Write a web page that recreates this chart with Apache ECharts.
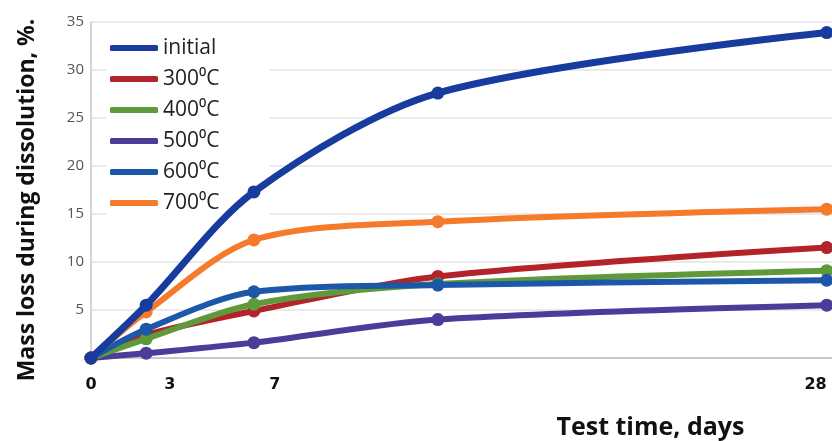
<!DOCTYPE html>
<html>
<head>
<meta charset="utf-8">
<script src="https://cdn.jsdelivr.net/npm/echarts@6/dist/echarts.min.js"></script>
<style>html,body{margin:0;padding:0;background:#fff;}#c{width:832px;height:441px;}</style>
</head>
<body>
<div id="c"></div>
<script>
const days = [0, 2.1, 6.2, 13.2, 28];
const xTickLabels = [0, 3, 7, 28];
const seriesNames = ['initial', '300\u2070C', '400\u2070C', '500\u2070C', '600\u2070C', '700\u2070C'];
const initial = [0, 5.5, 17.3, 27.6, 33.9];
const t300 = [0, 2.4, 4.9, 8.5, 11.5];
const t400 = [0, 2.0, 5.6, 7.7, 9.1];
const t500 = [0, 0.5, 1.6, 4.0, 5.5];
const t600 = [0, 3.0, 6.9, 7.6, 8.1];
const t700 = [0, 4.8, 12.3, 14.2, 15.5];
const colors = ['#173c9e', '#b3242a', '#5f9a3a', '#4a3c98', '#1d57aa', '#f57a2b'];
const widths = [7, 6, 6, 6, 6, 6];

const allData = [initial, t300, t400, t500, t600, t700];
const drawOrder = [3, 1, 2, 4, 5, 0];

const chart = echarts.init(document.getElementById('c'));
const series = drawOrder.map(i => ({
  name: seriesNames[i],
  type: 'line',
  smooth: 0.3,
  data: days.map((d, k) => [d, allData[i][k]]),
  symbol: 'circle',
  symbolSize: 13,
  lineStyle: { width: widths[i], color: colors[i] },
  itemStyle: { color: colors[i] },
  z: 3 + drawOrder.indexOf(i)
}));

chart.setOption({
  animation: false,
  backgroundColor: '#fff',
  grid: { left: 91, right: 0, top: 22, bottom: 83, outerBoundsMode: 'none', containLabel: false },
  legend: {
    data: seriesNames,
    orient: 'vertical',
    left: 106,
    top: 35,
    padding: [2, 50, 2, 4],
    backgroundColor: '#fff',
    icon: 'roundRect',
    itemWidth: 48,
    itemHeight: 6,
    itemGap: 9,
    textStyle: { fontFamily: 'Open Sans', fontSize: 21, color: '#222', lineHeight: 22, padding: [0, 0, 0, 0] },
    z: 1
  },
  xAxis: {
    type: 'value',
    min: 0,
    max: 28.2,
    name: 'Test time, days',
    nameLocation: 'middle',
    nameGap: 57,
    nameTextStyle: { fontFamily: 'Open Sans', fontWeight: 'bold', fontSize: 25, color: '#111', padding: [0, 0, 0, 378] },
    axisLine: { show: true, lineStyle: { color: '#c8c8c8', width: 2 } },
    axisTick: { show: false },
    splitLine: { show: false },
    axisLabel: {
      customValues: xTickLabels,
      alignMaxLabel: 'right',
      margin: 19,
      fontFamily: 'DejaVu Sans',
      fontWeight: 'bold',
      fontSize: 16,
      color: '#111'
    }
  },
  yAxis: {
    type: 'value',
    min: 0,
    max: 35,
    interval: 5,
    name: 'Mass loss during dissolution, %.',
    nameLocation: 'middle',
    nameGap: 52,
    nameTextStyle: { fontFamily: 'Open Sans', fontWeight: 'bold', fontSize: 23, color: '#111', padding: [0, 20, 0, 0] },
    axisLine: { show: true, lineStyle: { color: '#c8c8c8', width: 1.5 } },
    axisTick: { show: false },
    splitLine: { lineStyle: { color: '#e3e3e3', width: 1.5 } },
    axisLabel: {
      margin: 7,
      fontFamily: 'Open Sans',
      fontSize: 15,
      color: '#555',
      formatter: v => (v === 0 ? '' : String(v))
    }
  },
  series: series
});
</script>
</body>
</html>
